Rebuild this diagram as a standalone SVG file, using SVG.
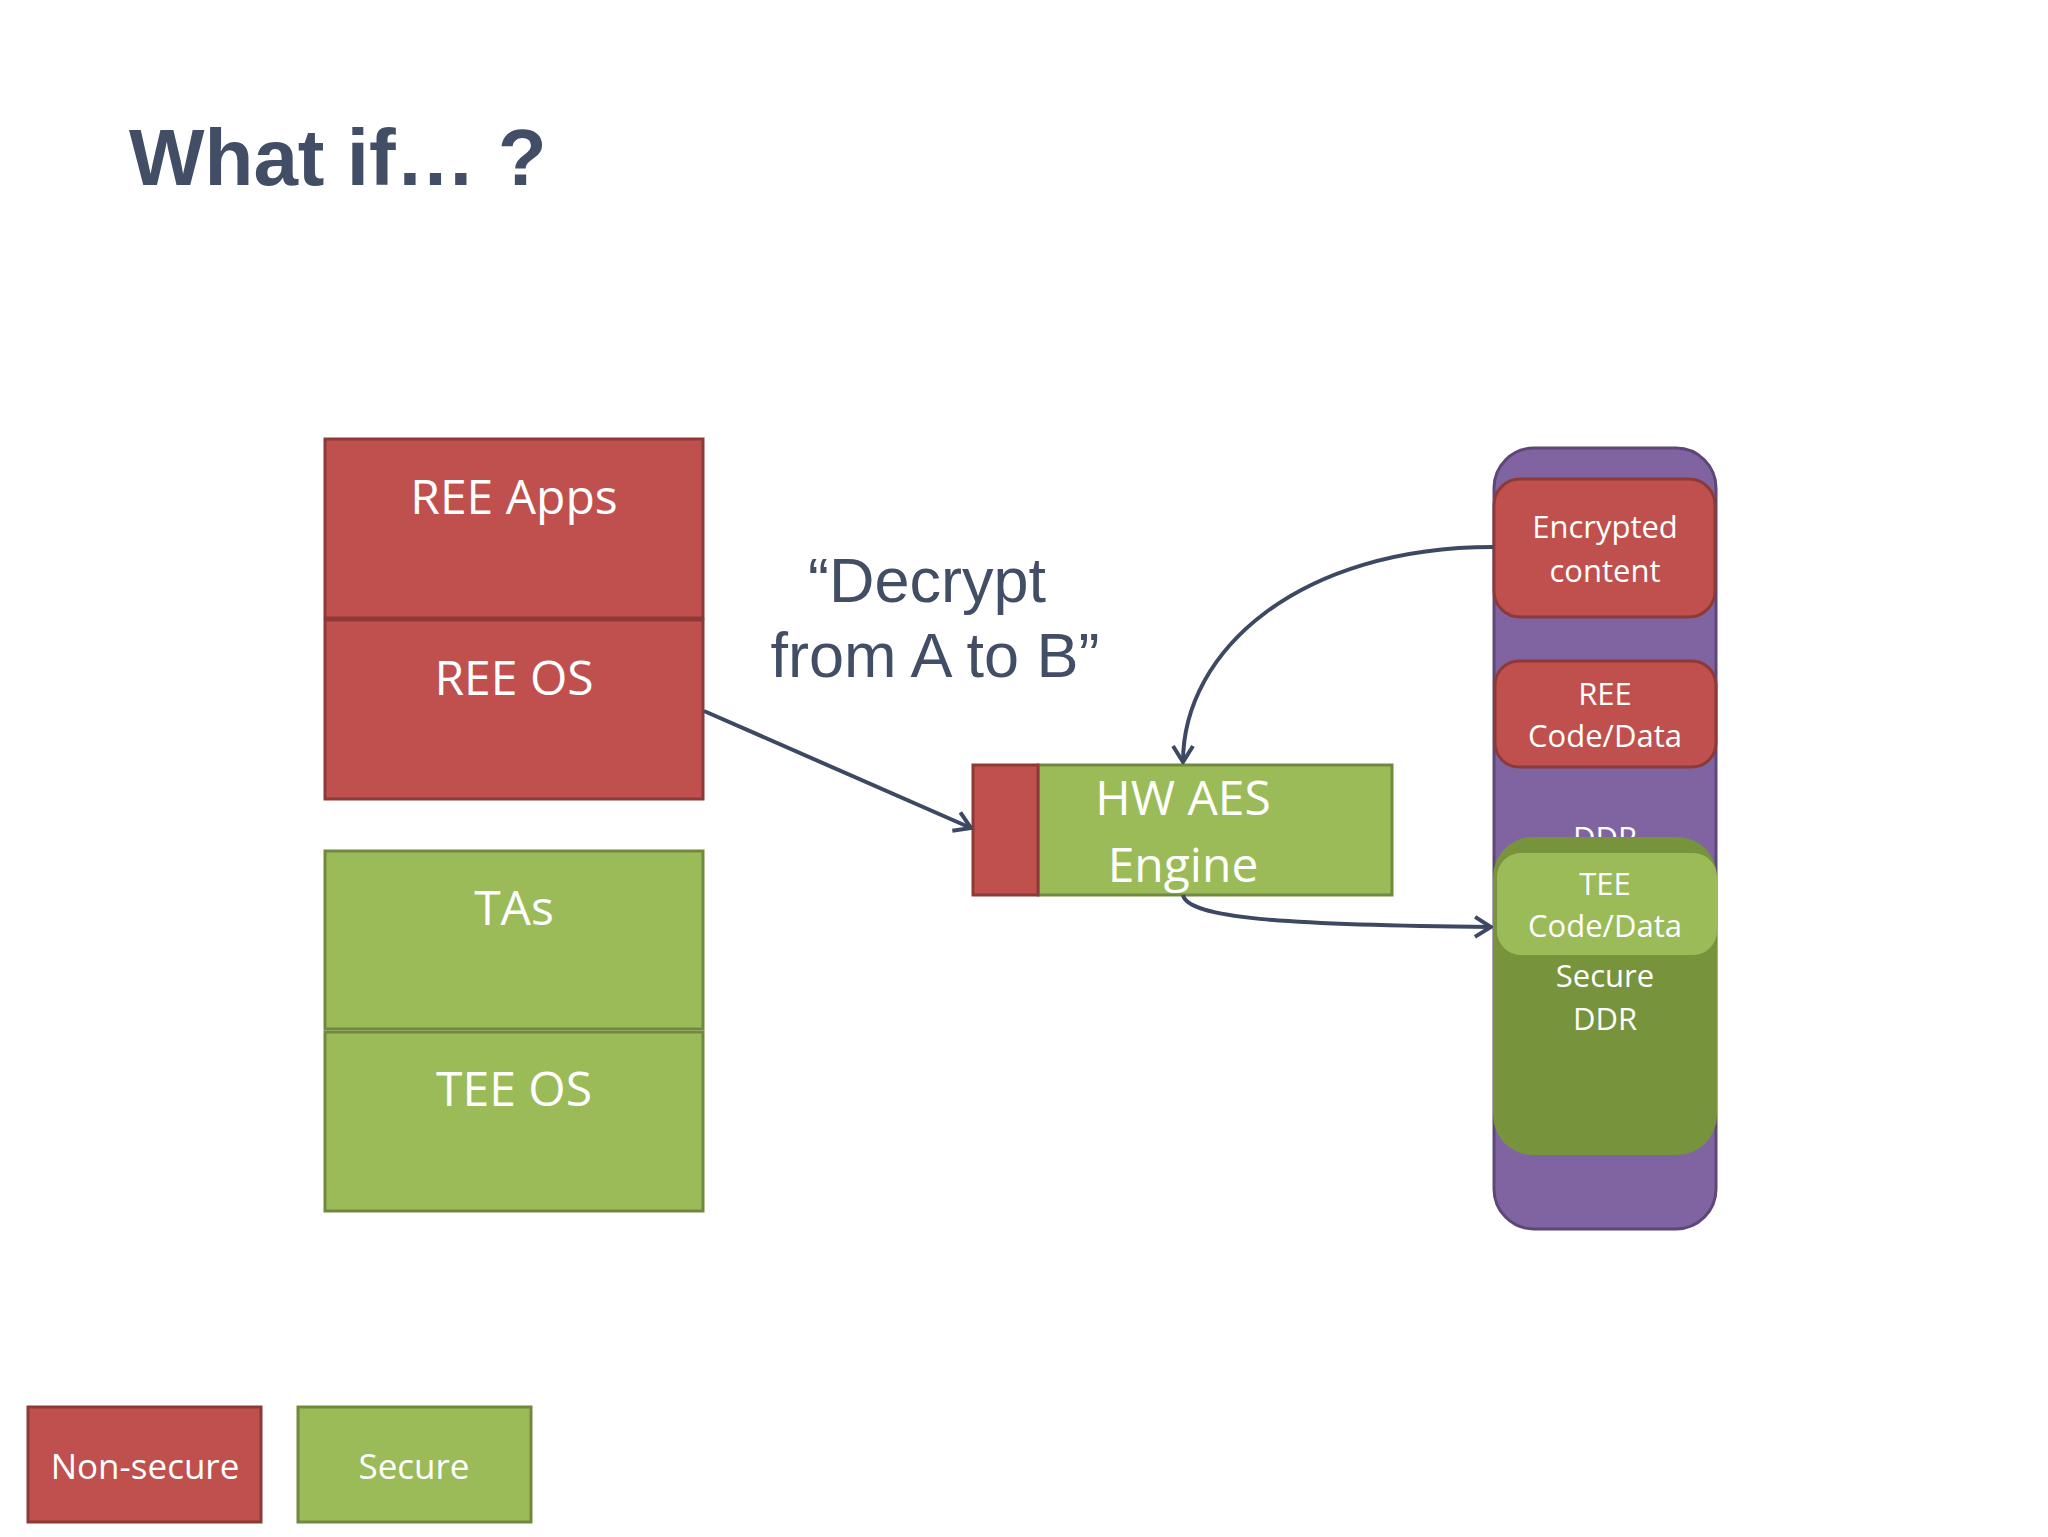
<svg xmlns="http://www.w3.org/2000/svg" width="2048" height="1537" viewBox="0 0 2048 1537">
<defs>
<style>
.red{fill:#C0504D;stroke:#8C3A38;stroke-width:3}
.grn{fill:#9BBB59;stroke:#71893F;stroke-width:3}
.lbl{font-family:"Open Sans","Noto Sans",sans-serif;fill:#FFFFFF;text-anchor:middle}
.big{font-size:48px}
.sm{font-size:31px}
.conn{fill:none;stroke:#3D4963;stroke-width:4}
</style>
<marker id="arr" viewBox="0 0 20 24" refX="18" refY="12" markerWidth="20" markerHeight="24" markerUnits="userSpaceOnUse" orient="auto">
<path d="M2,2 L18,12 L2,22" fill="none" stroke="#3D4963" stroke-width="4"/>
</marker>
</defs>
<rect width="2048" height="1537" fill="#FFFFFF"/>
<text x="129" y="185" font-family="Liberation Sans, Arial, sans-serif" font-weight="bold" font-size="80" fill="#424D66">What if… ?</text>
<g id="ree-apps"><rect class="red" x="325" y="439" width="378" height="179"/><text class="lbl big" x="514" y="514">REE Apps</text></g>
<g id="ree-os"><rect class="red" x="325" y="620" width="378" height="179"/><text class="lbl big" x="514" y="695">REE OS</text></g>
<g id="tas"><rect class="grn" x="325" y="851" width="378" height="178"/><text class="lbl big" x="514" y="925">TAs</text></g>
<g id="tee-os"><rect class="grn" x="325" y="1032" width="378" height="179"/><text class="lbl big" x="514" y="1106">TEE OS</text></g>
<g id="quote" font-family="Liberation Sans, Arial, sans-serif" font-size="63" fill="#424D66" text-anchor="middle">
<text x="927" y="602">“Decrypt</text>
<text x="935" y="677">from A to B”</text>
</g>
<g id="hw-aes">
<rect class="grn" x="1038" y="765" width="354" height="130"/>
<rect class="red" x="973" y="765" width="65" height="130"/>
<text class="lbl big" x="1183" y="815">HW AES</text>
<text class="lbl big" x="1183" y="882">Engine</text>
</g>
<g id="ddr">
<rect x="1494" y="448" width="222" height="781" rx="40" ry="40" fill="#8064A2" stroke="#5C4776" stroke-width="3"/>
<text class="lbl sm" x="1605" y="849">DDR</text>
</g>
<g id="encrypted">
<rect class="red" x="1494" y="479" width="221" height="138" rx="26" ry="26"/>
<text class="lbl sm" x="1605" y="538">Encrypted</text>
<text class="lbl sm" x="1605" y="582">content</text>
</g>
<g id="ree-code">
<rect class="red" x="1495" y="661" width="221" height="106" rx="24" ry="24"/>
<text class="lbl sm" x="1605" y="705">REE</text>
<text class="lbl sm" x="1605" y="747">Code/Data</text>
</g>
<g id="secure-ddr">
<rect x="1493" y="837" width="224" height="318" rx="40" ry="40" fill="#77933C"/>
<text class="lbl sm" x="1605" y="987">Secure</text>
<text class="lbl sm" x="1605" y="1030">DDR</text>
</g>
<g id="tee-code">
<rect x="1497" y="853" width="220" height="102" rx="24" ry="24" fill="#9BBB59"/>
<text class="lbl sm" x="1605" y="895">TEE</text>
<text class="lbl sm" x="1605" y="937">Code/Data</text>
</g>
<g id="connectors">
<path class="conn" d="M704,711 L971,828" marker-end="url(#arr)"/>
<path class="conn" d="M1493,547 C1300,547 1183,650 1183,762" marker-end="url(#arr)"/>
<path class="conn" d="M1183,895 C1188,918 1280,925 1491,927" marker-end="url(#arr)"/>
</g>
<g id="legend-nonsecure"><rect class="red" x="28" y="1407" width="233" height="115"/><text class="lbl" font-size="35" x="145" y="1479">Non-secure</text></g>
<g id="legend-secure"><rect class="grn" x="298" y="1407" width="233" height="115"/><text class="lbl" font-size="35" x="414" y="1479">Secure</text></g>
</svg>
